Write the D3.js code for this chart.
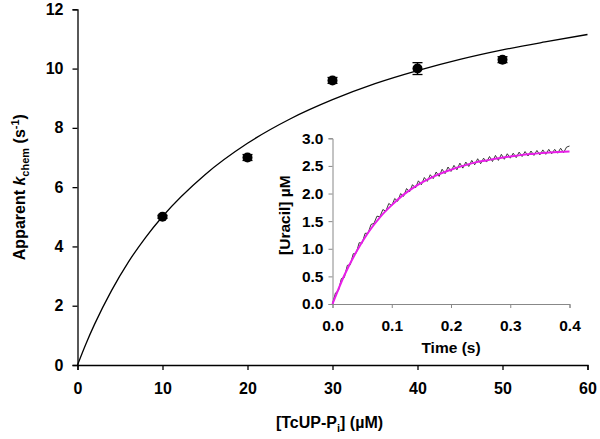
<!DOCTYPE html>
<html><head><meta charset="utf-8">
<script src="https://cdn.jsdelivr.net/npm/d3@7"></script>
<style>
body{margin:0;background:#fff;}
svg{display:block;font-family:"Liberation Sans",Arial,sans-serif;font-weight:bold;}
</style></head>
<body><svg id="c" width="600" height="439"></svg>
<script>
// Main panel data
const concX = [10, 20, 30, 40, 50];
const kchemY = [5.0, 7.0, 9.6, 10.0, 10.3];
const kchemErr = [0.05, 0.1, 0.1, 0.2, 0.1];
const fitConc = [0, 1, 2, 4, 6, 8, 10, 15, 20, 25, 30, 35, 40, 45, 50, 55, 60];
const fitK = [0, 0.72, 1.37, 2.51, 3.48, 4.30, 5.01, 6.42, 7.48, 8.30, 8.95, 9.49, 9.93, 10.31, 10.63, 10.90, 11.15];
const xTicks = [0, 10, 20, 30, 40, 50, 60];
const yTicks = [0, 2, 4, 6, 8, 10, 12];
// Inset data
const traceStep = 0.005;
const traceUracil = [0.00,0.20,0.24,0.46,0.48,0.70,0.71,0.91,0.92,1.11,1.10,1.28,1.28,1.44,1.46,1.59,1.58,1.71,1.68,1.82,1.78,1.91,1.86,2.00,1.95,2.09,2.03,2.16,2.10,2.23,2.16,2.29,2.22,2.34,2.27,2.39,2.31,2.44,2.36,2.48,2.40,2.51,2.43,2.55,2.46,2.57,2.49,2.60,2.52,2.63,2.54,2.64,2.57,2.67,2.58,2.69,2.60,2.71,2.62,2.72,2.64,2.73,2.65,2.75,2.67,2.76,2.68,2.77,2.69,2.78,2.70,2.79,2.71,2.80,2.72,2.80,2.73,2.82,2.74,2.84,2.86];
const fitTime = [0,0.02,0.04,0.06,0.08,0.10,0.12,0.14,0.16,0.18,0.20,0.22,0.24,0.26,0.28,0.30,0.32,0.34,0.36,0.38,0.40];
const fitUracil = [0,0.52,0.94,1.29,1.57,1.79,1.98,2.13,2.25,2.35,2.43,2.50,2.56,2.60,2.64,2.67,2.70,2.72,2.74,2.75,2.76];
const insetXTicks = [0, 0.1, 0.2, 0.3, 0.4];
const insetYTicks = [0, 0.5, 1.0, 1.5, 2.0, 2.5, 3.0];

const svg = d3.select("#c");
const FF = "'Liberation Sans',Arial,sans-serif";

// ---------- main panel ----------
const x = d3.scaleLinear().domain([0, 60]).range([77.5, 587.5]);
const y = d3.scaleLinear().domain([0, 12]).range([365, 9.3]);

const gx = svg.append("g").attr("transform", `translate(0,${y(0)})`)
  .call(d3.axisBottom(x).tickValues(xTicks).tickFormat(d3.format("d")).tickSizeOuter(0).tickSize(5).tickPadding(13));
const gy = svg.append("g").attr("transform", `translate(${x(0)},0)`)
  .call(d3.axisLeft(y).tickValues(yTicks).tickFormat(d3.format("d")).tickSizeOuter(0).tickSize(5).tickPadding(9));
[gx, gy].forEach(g => {
  g.selectAll("path,line").attr("stroke", "#000").attr("stroke-width", 1.3);
  g.selectAll("text").attr("font-size", 16).attr("font-weight", "bold").attr("fill", "#000").attr("font-family", FF);
});

svg.append("path")
  .datum(fitConc.map((c, i) => [c, fitK[i]]))
  .attr("fill", "none").attr("stroke", "#000").attr("stroke-width", 1.3)
  .attr("d", d3.line().x(d => x(d[0])).y(d => y(d[1])).curve(d3.curveMonotoneX));

const pts = svg.append("g");
concX.forEach((c, i) => {
  const cx = x(c), lo = y(kchemY[i] - kchemErr[i]), hi = y(kchemY[i] + kchemErr[i]);
  pts.append("line").attr("x1", cx).attr("x2", cx).attr("y1", lo).attr("y2", hi).attr("stroke", "#000").attr("stroke-width", 1.3);
  pts.append("line").attr("x1", cx - 5).attr("x2", cx + 5).attr("y1", lo).attr("y2", lo).attr("stroke", "#000").attr("stroke-width", 1.3);
  pts.append("line").attr("x1", cx - 5).attr("x2", cx + 5).attr("y1", hi).attr("y2", hi).attr("stroke", "#000").attr("stroke-width", 1.3);
  pts.append("circle").attr("cx", cx).attr("cy", y(kchemY[i])).attr("r", 5).attr("fill", "#000");
});

// Axis titles
const yt = svg.append("text").attr("transform", `translate(25,${(y(0) + y(12)) / 2}) rotate(-90)`)
  .attr("text-anchor", "middle").attr("font-size", 16).attr("fill", "#000");
yt.append("tspan").text("Apparent ");
yt.append("tspan").attr("font-style", "italic").text("k");
yt.append("tspan").attr("font-size", 11).attr("dy", 4).text("chem");
yt.append("tspan").attr("dy", -4).text(" (s");
yt.append("tspan").attr("font-size", 11).attr("dy", -6).text("-1");
yt.append("tspan").attr("dy", 6).text(")");

const xt = svg.append("text").attr("x", (x(0) + x(60)) / 2 - 3).attr("y", 428)
  .attr("text-anchor", "middle").attr("font-size", 16).attr("fill", "#000");
xt.append("tspan").text("[TcUP-P");
xt.append("tspan").attr("font-size", 11).attr("dy", 4).text("i");
xt.append("tspan").attr("dy", -4).text("] (\u00b5M)");

// ---------- inset ----------
const ix = d3.scaleLinear().domain([0, 0.4]).range([332.5, 569.5]);
const iy = d3.scaleLinear().domain([0, 3]).range([304, 138.3]);

const igx = svg.append("g").attr("transform", `translate(0,${iy(0)})`)
  .call(d3.axisBottom(ix).tickValues(insetXTicks).tickFormat(d3.format(".1f")).tickSizeOuter(0).tickSize(4).tickPadding(12));
const igy = svg.append("g").attr("transform", `translate(${ix(0)},0)`)
  .call(d3.axisLeft(iy).tickValues(insetYTicks).tickFormat(d3.format(".1f")).tickSizeOuter(0).tickSize(4).tickPadding(5));
[igx, igy].forEach(g => {
  g.selectAll("path,line").attr("stroke", "#888").attr("stroke-width", 1);
  g.selectAll("text").attr("font-size", 15.5).attr("font-weight", "bold").attr("fill", "#000").attr("font-family", FF);
});

svg.append("path")
  .datum(traceUracil.map((v, i) => [i * traceStep, v]))
  .attr("fill", "none").attr("stroke", "#222").attr("stroke-width", 0.9)
  .attr("d", d3.line().x(d => ix(d[0])).y(d => iy(d[1])));

svg.append("path")
  .datum(fitTime.map((t, i) => [t, fitUracil[i]]))
  .attr("fill", "none").attr("stroke", "#e81ee8").attr("stroke-width", 2)
  .attr("d", d3.line().x(d => ix(d[0])).y(d => iy(d[1])).curve(d3.curveMonotoneX));

svg.append("text").attr("x", (ix(0) + ix(0.4)) / 2).attr("y", 353)
  .attr("text-anchor", "middle").attr("font-size", 15.5).attr("fill", "#000").text("Time (s)");
svg.append("text").attr("transform", `translate(290,${(iy(0) + iy(3)) / 2 - 6}) rotate(-90)`)
  .attr("text-anchor", "middle").attr("font-size", 15.5).attr("fill", "#000").text("[Uracil] \u00b5M");
</script></body></html>
